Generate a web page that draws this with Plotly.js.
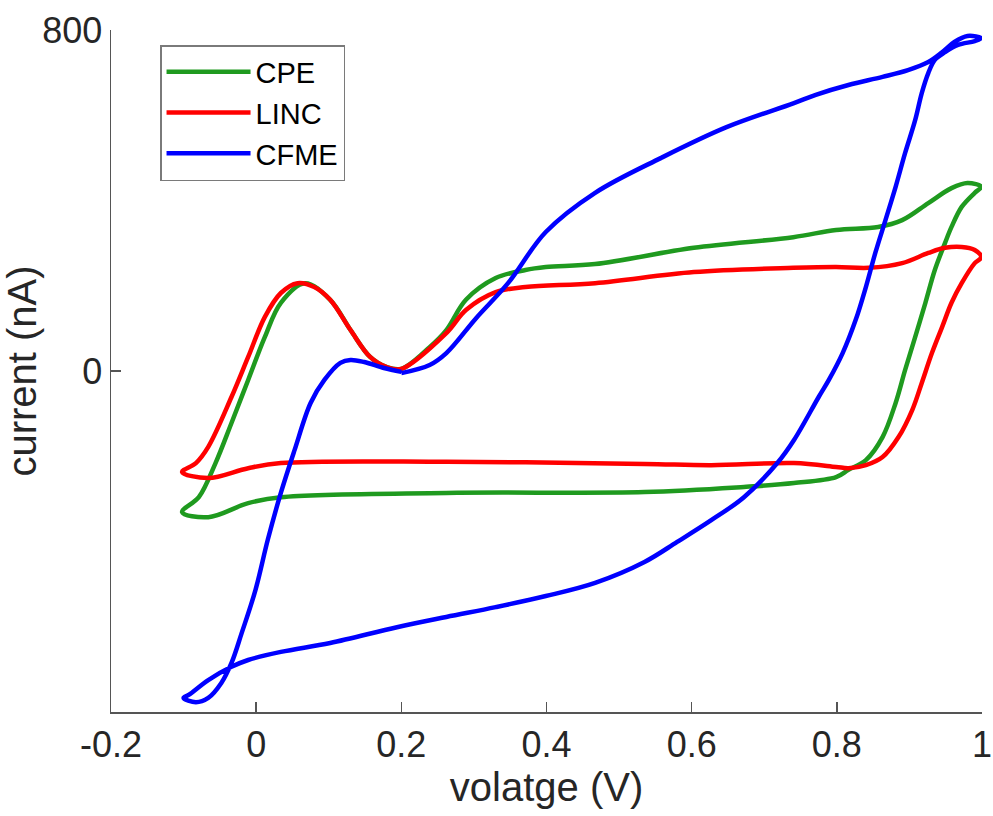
<!DOCTYPE html>
<html>
<head>
<meta charset="utf-8">
<script src="https://cdn.plot.ly/plotly-3.0.1.min.js"></script>
<style>html,body{margin:0;padding:0;background:#fff;}#chart{width:993px;height:816px;}</style>
</head>
<body>
<div id="chart"></div>
<script>
// Series names
const seriesNames = ["CPE", "LINC", "CFME"];
const seriesColors = ["#1f9a1f", "#ff0000", "#0000ff"];

// CPE: voltage (V) and current (nA)
const cpeV = [0.200, 0.239, 0.262, 0.289, 0.330, 0.371, 0.399, 0.467, 0.603, 0.740, 0.799, 0.857, 0.890, 0.926, 0.958, 0.980, 0.999,
  0.990, 0.972, 0.958, 0.949, 0.935, 0.922, 0.908, 0.894, 0.881, 0.863, 0.840, 0.816, 0.799, 0.741, 0.672, 0.535, 0.262, 0.034, -0.011, -0.066, -0.102,
  -0.079, -0.056, -0.034, -0.011, 0.012, 0.034, 0.067, 0.102, 0.130, 0.157, 0.180, 0.200];
const cpeI = [5, 56, 96, 167, 218, 237, 244, 251, 289, 314, 331, 338, 354, 394, 429, 441, 432,
  418, 385, 338, 300, 237, 160, 80, 2, -75, -155, -209, -232, -249, -263, -272, -284, -286, -296, -310, -343, -331,
  -296, -216, -122, -21, 80, 160, 206, 167, 96, 33, 9, 5];

// LINC
const lincV = [0.200, 0.262, 0.289, 0.330, 0.371, 0.467, 0.603, 0.740, 0.799, 0.844, 0.890, 0.926, 0.949, 0.972, 0.990, 0.999,
  0.990, 0.972, 0.958, 0.945, 0.931, 0.917, 0.904, 0.885, 0.863, 0.840, 0.816, 0.799, 0.741, 0.627, 0.535, 0.262, 0.034, -0.011, -0.066, -0.102,
  -0.083, -0.066, -0.034, -0.011, 0.012, 0.034, 0.057, 0.080, 0.102, 0.130, 0.157, 0.180, 0.200];
const lincI = [5, 89, 143, 185, 197, 206, 232, 242, 244, 242, 253, 277, 289, 291, 284, 267,
  253, 206, 160, 103, 42, -28, -91, -155, -202, -221, -228, -225, -216, -221, -218, -213, -216, -228, -251, -237,
  -216, -178, -61, 33, 127, 183, 206, 197, 167, 96, 33, 9, 5];

// CFME
const cfmeV = [0.200, 0.239, 0.262, 0.303, 0.347, 0.399, 0.467, 0.558, 0.648, 0.740, 0.771, 0.816, 0.863, 0.898, 0.926, 0.945, 0.962, 0.980, 0.999,
  0.990, 0.967, 0.949, 0.935, 0.926, 0.917, 0.908, 0.894, 0.881, 0.867, 0.853, 0.840, 0.826, 0.808, 0.789, 0.775, 0.741, 0.718, 0.672, 0.627, 0.580, 0.535, 0.467,
  0.399, 0.330, 0.262, 0.194, 0.102, 0.034, -0.011, -0.034, -0.066, -0.093, -0.100,
  -0.083, -0.066, -0.048, -0.034, -0.020, -0.001, 0.016, 0.034, 0.053, 0.075, 0.094, 0.116, 0.130, 0.149, 0.176, 0.200];
const cfmeI = [-5, 14, 42, 124, 206, 326, 418, 500, 572, 628, 648, 671, 690, 706, 725, 748, 772, 786, 781,
  774, 765, 748, 730, 699, 652, 589, 511, 432, 354, 277, 197, 120, 42, -21, -61, -162, -216, -296, -350, -401, -448, -497,
  -528, -554, -577, -601, -638, -659, -678, -694, -725, -760, -767,
  -777, -767, -732, -685, -615, -514, -396, -286, -185, -75, -21, 19, 26, 21, 7, -2];

// Axis ticks
const xTickVals = [-0.2, 0, 0.2, 0.4, 0.6, 0.8, 1];
const xTickText = ["-0.2", "0", "0.2", "0.4", "0.6", "0.8", "1"];
const yTickVals = [0, 800];
const yTickText = ["0", "800"];

const allV = [cpeV, lincV, cfmeV];
const allI = [cpeI, lincI, cfmeI];

const traces = seriesNames.map((name, k) => ({
  x: allV[k], y: allI[k], name: name, type: "scatter", mode: "lines",
  line: {color: seriesColors[k], width: 4.5, shape: "spline", smoothing: 1.0}
}));

const fontFam = "Liberation Sans, Arial, sans-serif";
const layout = {
  width: 993, height: 816,
  margin: {l: 111, r: 11, t: 30, b: 104},
  paper_bgcolor: "#ffffff", plot_bgcolor: "#ffffff",
  font: {family: fontFam, color: "#262626"},
  showlegend: true,
  legend: {
    x: 0.0563, y: 0.978, xanchor: "left", yanchor: "top",
    bgcolor: "#ffffff", bordercolor: "#7a7a7a", borderwidth: 1.5,
    font: {family: fontFam, size: 29, color: "#000000"},
    itemwidth: 84, tracegroupgap: 0
  },
  xaxis: {
    range: [-0.2, 1], tickvals: xTickVals, ticktext: xTickText,
    ticks: "inside", ticklen: 10, tickwidth: 1.5, tickcolor: "#555555",
    showline: true, linecolor: "#555555", linewidth: 1.5, mirror: false,
    showgrid: false, zeroline: false, ticklabeloverflow: "allow",
    tickfont: {family: fontFam, size: 36, color: "#262626"},
    title: {text: "volatge (V)", font: {family: fontFam, size: 40, color: "#262626"}, standoff: 6}
  },
  yaxis: {
    range: [-800, 800], tickvals: yTickVals, ticktext: yTickText,
    ticks: "inside", ticklen: 10, tickwidth: 1.5, tickcolor: "#555555",
    showline: true, linecolor: "#555555", linewidth: 1.5, mirror: false,
    showgrid: false, zeroline: false,
    tickfont: {family: fontFam, size: 36, color: "#262626"},
    title: {text: "current (nA)", font: {family: fontFam, size: 40, color: "#262626"}, standoff: 18}
  }
};

Plotly.newPlot("chart", traces, layout, {displayModeBar: false, staticPlot: true});
</script>
</body>
</html>
